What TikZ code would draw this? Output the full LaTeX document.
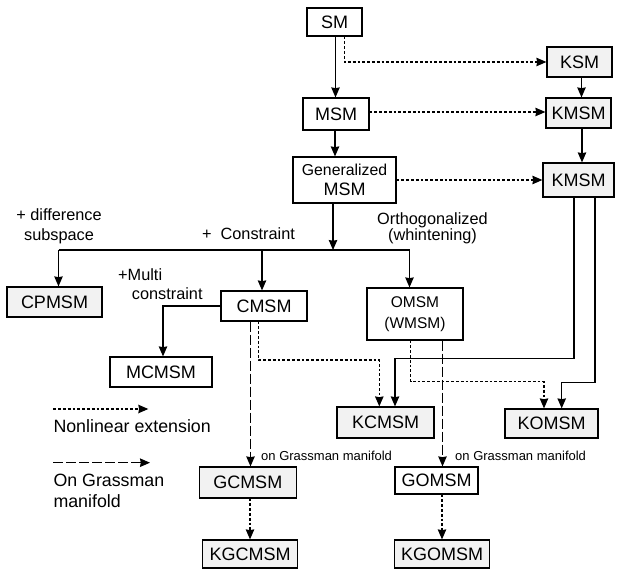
\documentclass[tikz,border=0pt]{standalone}
\usepackage{fontspec}
\setmainfont{Liberation Sans}
\usetikzlibrary{arrows.meta,calc}
\definecolor{kgray}{HTML}{F2F2F2}
\begin{document}
\begin{tikzpicture}[x=1pt,y=-1pt,
 box/.style={draw, line width=1.2pt, inner sep=0pt, font=\fontsize{18}{20}\selectfont, align=center},
 kbox/.style={box, fill=kgray},
 lbl/.style={inner sep=0pt, font=\fontsize{16.3}{19}\selectfont},
 smlbl/.style={inner sep=0pt, font=\fontsize{13}{15}\selectfont},
 ln/.style={line width=1.2pt},
 con/.style={line width=1.2pt, -{Stealth[length=10pt,width=8.5pt,inset=0.8pt]}},
 dotarr/.style={con, dash pattern=on 2.8pt off 2pt},
 dasharr/.style={con, dash pattern=on 10pt off 3pt}
]
\useasboundingbox (0,0) rectangle (621,569);

% boxes
\node[box, minimum width=55pt, minimum height=28pt] (SM) at (334.5,22) {SM};
\node[box, minimum width=66pt, minimum height=32pt] (MSM) at (336,114) {MSM};
\node[box, minimum width=103pt, minimum height=46pt] (GMSM) at (344.5,180) {{\fontsize{15.8}{20}\selectfont Generalized}\\MSM};
\node[kbox, minimum width=65pt, minimum height=30pt] (KSM) at (579.5,62) {KSM};
\node[kbox, minimum width=65pt, minimum height=30pt] (KMSMa) at (578.5,113) {KMSM};
\node[kbox, minimum width=71pt, minimum height=34pt] (KMSMb) at (578.5,180) {KMSM};
\node[kbox, minimum width=95pt, minimum height=30pt] (CPMSM) at (54.5,302) {CPMSM};
\node[box, minimum width=86pt, minimum height=30pt] (CMSM) at (264,306) {CMSM};
\node[box, minimum width=102pt, minimum height=30pt] (MCMSM) at (161,372) {MCMSM};
\node[box, minimum width=96pt, minimum height=52pt, font=\fontsize{15.5}{21}\selectfont] (OMSM) at (415,314) {OMSM\\(WMSM)};
\node[kbox, minimum width=97pt, minimum height=31pt] (KCMSM) at (385.5,422.5) {KCMSM};
\node[kbox, minimum width=93pt, minimum height=29pt] (KOMSM) at (551.5,423.5) {KOMSM};
\node[kbox, minimum width=97pt, minimum height=31pt] (GCMSM) at (247.75,482.5) {GCMSM};
\node[box, minimum width=83pt, minimum height=27pt] (GOMSM) at (436.5,480.5) {GOMSM};
\node[kbox, minimum width=95.5pt, minimum height=28pt] (KGCMSM) at (250,554) {KGCMSM};
\node[kbox, minimum width=95.5pt, minimum height=28pt] (KGOMSM) at (442,554) {KGOMSM};

% labels
\node[lbl, align=center, font=\fontsize{16.3}{20.3}\selectfont] (tdiff) at (59,226.6) {+ difference\\subspace};
\node[lbl] (tcons) at (248.5,233.7) {+\ \ Constraint};
\node[lbl, align=center, font=\fontsize{16.3}{16.7}\selectfont] (torth) at (432.5,228.4) {Orthogonalized\\(whintening)};
\node[lbl, anchor=base west] (tmula) at (118,280.7) {+Multi};
\node[lbl, anchor=base west] (tmulb) at (131.7,299.3) {constraint};
\node[lbl, anchor=base west, font=\fontsize{17.8}{20}\selectfont] (tnl) at (53.3,432.3) {Nonlinear extension};
\node[lbl, align=left, anchor=north west, font=\fontsize{17.8}{20.7}\selectfont] (tgr) at (53.3,474) {On Grassman\\manifold};
\node[smlbl, anchor=base west] (tga) at (261,460) {on Grassman manifold};
\node[smlbl, anchor=base west] (tgb) at (455,460) {on Grassman manifold};

% coordinates
\coordinate (J) at (333,250);
\coordinate (JL) at (58.5,250);
\coordinate (JR) at (409.5,250);
\coordinate (ca) at (379.3,360);
\coordinate (cb) at (544,381.7);
\coordinate (ka) at (395,358.5);
\coordinate (kb) at (561.7,382.7);
\coordinate (la) at (53.3,409);
\coordinate (lb) at (148.3,409);
\coordinate (lc) at (53.3,462.7);
\coordinate (ld) at (150,462.7);

% connectors
\draw[con] ([xshift=1pt]SM.south) -- ([xshift=1pt]SM.south |- MSM.north);
\draw[dotarr] ([xshift=10pt]SM.south) |- (KSM.west);
\draw[con] ([xshift=-1pt]MSM.south) -- ([xshift=-1pt]MSM.south |- GMSM.north);
\draw[dotarr] ([yshift=2pt]MSM.east) -- ([yshift=2pt]MSM.east -| KMSMa.west);
\draw[dotarr] (GMSM.east) -- (GMSM.east -| KMSMb.west);
\draw[con] ([xshift=2pt]KSM.south) -- ([xshift=2pt]KSM.south |- KMSMa.north);
\draw[con] ([xshift=3.5pt]KMSMa.south) -- ([xshift=3.5pt]KMSMa.south |- KMSMb.north);

\draw[con] (J |- GMSM.south) -- (J);
\draw[ln] (JL) -- (JR);
\draw[con] (JL) -- (JL |- CPMSM.north);
\draw[con] ([xshift=-2pt]CMSM.north |- J) -- ([xshift=-2pt]CMSM.north);
\draw[con] (JR) -- (JR |- OMSM.north);

\draw[con] (CMSM.west) -| ([xshift=2pt]MCMSM.north);
\draw[dotarr] ([xshift=-5.7pt]CMSM.south) |- (ca) -- (ca |- KCMSM.north);
\draw[dasharr] ([xshift=-13.5pt]CMSM.south) -- ([xshift=-13.5pt]CMSM.south |- GCMSM.north);
\draw[dotarr] ([xshift=2.25pt]GCMSM.south) -- ([xshift=2.25pt]GCMSM.south |- KGCMSM.north);

\draw[dotarr] ([xshift=-4.3pt]OMSM.south) |- (cb) -- (cb |- KOMSM.north);
\draw[dasharr] ([xshift=27.5pt]OMSM.south) -- ([xshift=27.5pt]OMSM.south |- GOMSM.north);
\draw[dotarr] ([xshift=5.5pt]GOMSM.south) -- ([xshift=5.5pt]GOMSM.south |- KGOMSM.north);

\draw[con] ([xshift=-4.5pt]KMSMb.south) |- (ka) -- (ka |- KCMSM.north);
\draw[con] ([xshift=16.5pt]KMSMb.south) |- (kb) -- (kb |- KOMSM.north);

% legend
\draw[dotarr] (la) -- (lb);
\draw[dasharr] (lc) -- (ld);
\end{tikzpicture}
\end{document}
